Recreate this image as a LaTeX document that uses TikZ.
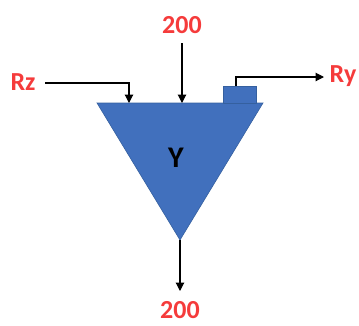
\documentclass[tikz,border=0pt]{standalone}
\usepackage{fontspec}
\setmainfont{Carlito}
\usetikzlibrary{arrows.meta}
\definecolor{tri}{HTML}{4170BD}
\definecolor{triedge}{HTML}{35609F}
\definecolor{lbl}{HTML}{F53B3B}
\tikzset{
  lab/.style={text=lbl, font=\bfseries\fontsize{26}{26}\selectfont, inner sep=0pt},
  conn/.style={line width=1.1pt, -{Triangle[width=8.5pt,length=8.5pt]}},
  blue shape/.style={fill=tri, draw=triedge, line width=0.6pt},
}
\begin{document}
\begin{tikzpicture}[x=1pt,y=-1pt]
\useasboundingbox (0,0) rectangle (359,325);
\fill[blue shape] (97,103) -- (263,103) -- (180,240) -- cycle;
\fill[blue shape] (223,86) rectangle (256,103);
\node[font=\bfseries\fontsize{30}{30}\selectfont, inner sep=0pt] (y) at (176,158) {Y};
\coordinate (apex) at (180,240);
\coordinate (top1) at (129,103);
\coordinate (top2) at (182,103);
\coordinate (box) at (236,86);
\coordinate (rzs) at (45,83);
\coordinate (ts) at (182,43);
\coordinate (rye) at (324,77);
\coordinate (be) at (180,291);
\node[lab] (rz) at (23,82) {Rz};
\node[lab] (t200) at (182,25) {200};
\node[lab] (ry) at (343,76) {Ry};
\node[lab] (b200) at (180,310) {200};
\draw[conn] (rzs) -| (top1);
\draw[conn] (ts) -- (top2);
\draw[conn] (box) |- (rye);
\draw[conn] (apex) -- (be);
\end{tikzpicture}
\end{document}
